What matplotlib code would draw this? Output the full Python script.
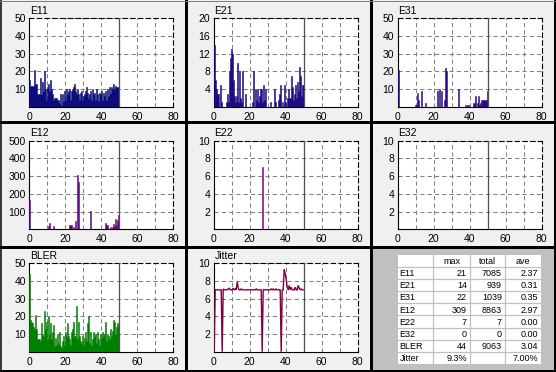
import numpy as np
import matplotlib
matplotlib.use('Agg')
import matplotlib.pyplot as plt
from matplotlib.lines import Line2D
from matplotlib.patches import Rectangle

W, H, DPI = 556, 372, 100

# ---------------- data (per-sample values, samples span 0..50) ----------------
E11 = [15, 12, 12, 12, 12, 21, 13, 13, 7, 7,
       7, 16, 7, 14, 9, 20, 10, 4, 11, 13,
       9, 15, 10, 7, 4, 5, 5, 5, 4, 4,
       2, 7, 1, 7, 3, 9, 4, 10, 7, 9,
       10, 4, 9, 10, 11, 13, 9, 7, 10, 7,
       4, 8, 9, 4, 6, 7, 9, 11, 8, 5,
       7, 9, 4, 10, 7, 8, 4, 10, 7, 3,
       8, 7, 9, 4, 8, 6, 9, 4, 10, 6,
       11, 8, 11, 10, 13, 10, 12, 11, 11, 11]
E21 = [14, 6, 4, 3, 3, 0, 5, 1, 0, 0,
       0, 0, 1, 3, 1, 8, 11, 13, 12, 6,
       2.5, 1, 2.5, 10, 1, 8, 2, 1, 8, 0,
       0, 3, 0, 0, 0, 0, 0, 0, 1, 8,
       0, 4, 1.5, 4, 1, 2.5, 4, 4, 1, 5,
       1.5, 4, 0, 0, 0, 0, 1, 0, 0, 0,
       4, 1, 0, 0, 1.5, 3, 5, 0, 1, 0,
       5, 1, 0, 2, 4, 2, 2, 7, 4.4, 1.5,
       3, 5, 2, 5.5, 3.6, 9, 7, 2.5, 5, 5]
E31 = [21, 0, 0, 0, 0, 0, 0, 0, 0, 0,
       0, 0, 0, 0, 0, 0, 0, 1, 1, 8,
       4, 0, 0, 9, 0, 0, 0, 2, 0, 0,
       0, 0, 0, 0, 0, 0, 0, 0, 0, 9,
       0, 10, 0, 9, 0, 0, 4, 22, 20, 0,
       0, 0, 0, 0, 0, 0, 0, 0, 0, 0,
       10, 0, 0, 0, 0, 0, 0, 1, 0, 1,
       1, 0, 0, 0, 0, 2, 2, 6, 0, 2,
       6, 1, 2, 4, 4, 4, 4, 4, 4, 9]
E12 = [165, 0, 0, 0, 0, 0, 0, 0, 0, 0,
       0, 0, 0, 0, 0, 0, 0, 0, 0, 20,
       35, 0, 0, 0, 17, 0, 0, 0, 0, 0,
       0, 0, 0, 0, 0, 0, 0, 0, 0, 0,
       25, 25, 25, 0, 15, 0, 47, 0, 309, 268,
       0, 0, 0, 0, 0, 0, 0, 0, 0, 0,
       0, 105, 0, 0, 0, 0, 0, 0, 0, 0,
       0, 0, 0, 0, 0, 0, 35, 25, 25, 0,
       0, 13, 0, 10, 32, 17, 60, 25, 51, 80]
E22 = [0, 0, 0, 0, 0, 0, 0, 0, 0, 0,
       0, 0, 0, 0, 0, 0, 0, 0, 0, 0,
       0, 0, 0, 0, 0, 0, 0, 0, 0, 0,
       0, 0, 0, 0, 0, 0, 0, 0, 0, 0,
       0, 0, 0, 0, 0, 0, 0, 0, 7, 0,
       0, 0, 0, 0, 0, 0, 0, 0, 0, 0,
       0, 0, 0, 0, 0, 0, 0, 0, 0, 0,
       0, 0, 0, 0, 0, 0, 0, 0, 0, 0,
       0, 0, 0, 0, 0, 0, 0, 0, 0, 0]
E32 = [0, 0, 0, 0, 0, 0, 0, 0, 0, 0,
       0, 0, 0, 0, 0, 0, 0, 0, 0, 0,
       0, 0, 0, 0, 0, 0, 0, 0, 0, 0,
       0, 0, 0, 0, 0, 0, 0, 0, 0, 0,
       0, 0, 0, 0, 0, 0, 0, 0, 0, 0,
       0, 0, 0, 0, 0, 0, 0, 0, 0, 0,
       0, 0, 0, 0, 0, 0, 0, 0, 0, 0,
       0, 0, 0, 0, 0, 0, 0, 0, 0, 0,
       0, 0, 0, 0, 0, 0, 0, 0, 0, 0]
BLER = [44, 18, 17, 16, 14, 13, 21, 13, 7, 7,
        7, 6, 16, 10, 9, 23, 13, 17, 7, 20,
        10, 16, 7, 11, 15, 3, 8, 4, 10, 5,
        11, 3, 2, 6, 9, 4, 11, 9, 16, 9,
        7, 4, 11, 13, 17, 9, 9, 26, 7, 17,
        9, 6, 5, 9, 4, 8, 11, 6, 16, 20,
        5, 11, 4, 7, 11, 9, 10, 5, 11, 7,
        4, 10, 8, 11, 9, 10, 17, 6, 10, 9,
        7, 13, 9, 12, 18, 17, 10, 14, 16, 15]
JITTER = [0, 7, 7, 7, 7, 7, 7, 7, 0, 7.1,
          7, 7, 7, 7, 7.1, 7.2, 7, 7, 7, 7.2,
          7, 7.1, 7, 7.9, 7.2, 7, 7, 7.1, 7, 7,
          7, 7, 7, 7, 7, 7, 7, 7, 7, 7,
          7, 7, 7.1, 7, 7, 7, 7, 7, 0, 7,
          7, 7, 7, 7, 7, 7, 7, 7.1, 7, 7.1,
          7, 7, 7.1, 7, 7, 7, 7, 0, 7, 7,
          9.3, 8.8, 8.2, 7.3, 7, 7.5, 7, 7.3, 7, 7,
          7, 7.3, 7, 7, 7.5, 7.2, 7, 7.1, 7, 7]

X_TICKS = [0, 20, 40, 60, 80]
X_GRID = [10, 20, 30, 40, 50, 60, 70]
X_MAX = 80
DATA_END = 50

TABLE_HEADER = ["", "max", "total", "ave"]
TABLE_ROWS = ["E11", "E21", "E31", "E12", "E22", "E32", "BLER", "Jitter"]
TABLE_MAX = ["21", "14", "22", "309", "7", "0", "44", "9.3%"]
TABLE_TOTAL = ["7085", "939", "1039", "8863", "7", "0", "9063", ""]
TABLE_AVE = ["2.37", "0.31", "0.35", "2.97", "0.00", "0.00", "3.04", "7.00%"]

# title, data, ymax, yticks, color, kind
panels = [
    ("E11", E11, 50, [10, 20, 30, 40, 50], "#0c0c7c", "bar"),
    ("E21", E21, 20, [4, 8, 12, 16, 20], "#1e0a84", "bar"),
    ("E31", E31, 50, [10, 20, 30, 40, 50], "#30088a", "bar"),
    ("E12", E12, 500, [100, 200, 300, 400, 500], "#62088a", "bar"),
    ("E22", E22, 10, [2, 4, 6, 8, 10], "#84008a", "bar"),
    ("E32", E32, 10, [2, 4, 6, 8, 10], "#84008a", "bar"),
    ("BLER", BLER, 50, [10, 20, 30, 40, 50], "#008000", "bar"),
    ("Jitter", JITTER, 10, [2, 4, 6, 8, 10], "#800040", "line"),
]

# ---------------- layout (pixels) ----------------
COL_LEFT = [29.3, 213.7, 397.7]
ROW_TOP = [18.3, 140.7, 263.3]
AX_W, AX_H = 144.0, 88.5

plt.rcParams['font.family'] = ['Liberation Sans', 'DejaVu Sans']
fig = plt.figure(figsize=(W / DPI, H / DPI), dpi=DPI)
fig.patch.set_facecolor('#f0f0f0')


def fx(px):
    return px / W


def fy(py):
    return 1 - py / H


# gray table panel
fig.add_artist(Rectangle((fx(370), fy(372)), fx(186), 125 / H,
                         transform=fig.transFigure, facecolor='#c0c0c0',
                         edgecolor='none', zorder=0))

DASH = (0, (4, 3))
for k, (title, vals, ymax, yt, color, kind) in enumerate(panels):
    r, c = divmod(k, 3)
    ax = fig.add_axes([fx(COL_LEFT[c]), fy(ROW_TOP[r] + AX_H), AX_W / W, AX_H / H])
    ax.set_facecolor('white')
    n = len(vals)
    step = DATA_END / n
    edges = np.arange(n + 1) * step
    if kind == "bar":
        ax.stairs(vals, edges, fill=True, facecolor=color, edgecolor=color,
                  lw=0.4, zorder=3)
    else:
        xs = np.arange(n) * step + step / 2
        ax.plot(xs, vals, color=color, lw=1.0, zorder=3, solid_joinstyle='miter')
    ax.set_xlim(0, X_MAX)
    ax.set_ylim(0, ymax)
    ax.set_xticks(X_TICKS)
    ax.set_xticks(X_GRID, minor=True)
    ax.set_yticks(yt)
    ax.tick_params(which='both', length=0, labelsize=7.5, pad=2.5, colors='black')
    ax.tick_params(axis='x', pad=3.5)
    ax.grid(True, which='both', axis='x', color='#808080', lw=0.75, linestyle=DASH, zorder=1)
    ax.grid(True, which='major', axis='y', color='#808080', lw=0.75, linestyle=DASH, zorder=1)
    ax.set_axisbelow(True)
    ax.axvline(DATA_END, color='#505050', lw=0.9, zorder=4)
    for s in ('left', 'bottom'):
        ax.spines[s].set_linewidth(0.8)
        ax.spines[s].set_color('black')
    for s in ('top', 'right'):
        ax.spines[s].set_linewidth(0.8)
        ax.spines[s].set_color('black')
        ax.spines[s].set_linestyle(DASH)
    ax.text(0.005, 1.025, title, transform=ax.transAxes, ha='left', va='bottom',
            fontsize=7.5)

# ---------------- table ----------------
T_COLS = [397.7, 433.3, 470.0, 505.0, 541.0]
T_TOP, T_ROW_H = 255.0, 12.1
n_rows = len(TABLE_ROWS) + 1
tax = fig.add_axes([fx(T_COLS[0]), fy(T_TOP + n_rows * T_ROW_H),
                    (T_COLS[-1] - T_COLS[0]) / W, n_rows * T_ROW_H / H])
tax.set_xlim(T_COLS[0], T_COLS[-1])
tax.set_ylim(T_TOP + n_rows * T_ROW_H, T_TOP)
tax.axis('off')
tax.add_patch(Rectangle((T_COLS[0], T_TOP), T_COLS[-1] - T_COLS[0], n_rows * T_ROW_H,
                        facecolor='white', edgecolor='none'))
for xb in T_COLS[1:-1]:
    tax.plot([xb, xb], [T_TOP, T_TOP + n_rows * T_ROW_H], color='#c0c0c0', lw=0.9)
for j in range(1, n_rows):
    yb = T_TOP + j * T_ROW_H
    tax.plot([T_COLS[0], T_COLS[-1]], [yb, yb], color='#c0c0c0', lw=0.9)

cells = [TABLE_HEADER] + [[a, b, cc, d] for a, b, cc, d in
                          zip(TABLE_ROWS, TABLE_MAX, TABLE_TOTAL, TABLE_AVE)]
for j, row in enumerate(cells):
    yc = T_TOP + (j + 0.55) * T_ROW_H
    for i, txt in enumerate(row):
        if j == 0:
            tax.text((T_COLS[i] + T_COLS[i + 1]) / 2, yc, txt, ha='center', va='center', fontsize=6.5)
        elif i == 0:
            tax.text(T_COLS[i] + 2, yc, txt, ha='left', va='center', fontsize=6.5)
        else:
            tax.text(T_COLS[i + 1] - 3, yc, txt, ha='right', va='center', fontsize=6.5)

# ---------------- panel separators ----------------
def hline(py, lw_px, x0=0, x1=W, color='black'):
    fig.add_artist(Line2D([fx(x0), fx(x1)], [fy(py), fy(py)], transform=fig.transFigure,
                          color=color, lw=lw_px * 72 / DPI, zorder=10))


def vline(px, lw_px, y0=0, y1=H, color='black'):
    fig.add_artist(Line2D([fx(px), fx(px)], [fy(y0), fy(y1)], transform=fig.transFigure,
                          color=color, lw=lw_px * 72 / DPI, zorder=10))


hline(122.0, 3)
hline(246.5, 3)
vline(185.5, 3)
vline(371.0, 3)
vline(0.5, 1.5)
vline(555.0, 2)
hline(371.0, 2)
hline(0.5, 1, color='#808080')

fig.savefig('out.png', dpi=DPI, facecolor=fig.get_facecolor())
